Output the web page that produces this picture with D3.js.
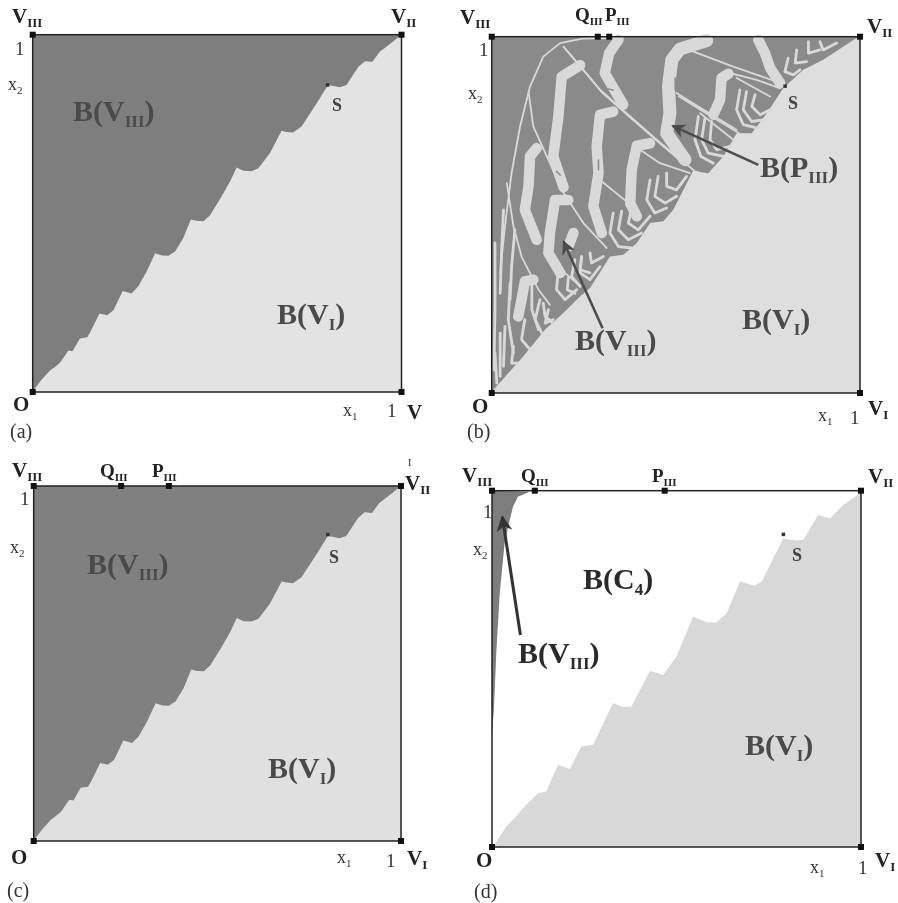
<!DOCTYPE html>
<html>
<head>
<meta charset="utf-8">
<script src="https://cdn.jsdelivr.net/npm/d3@7"></script>
<style>
  html, body { margin: 0; background: #fff; }
  svg { display: block; filter: blur(0.45px); }
  text { font-family: "Liberation Serif", serif; }
</style>
</head>
<body>
<svg id="chart" width="898" height="903"></svg>
<script>
// basin boundary, unit square coords [x1, x2]
const boundaryAC = [[.002,.004],[.024,.034],[.047,.060],[.061,.071],[.074,.082],[.097,.116],[.108,.114],[.128,.150],[.148,.153],[.157,.169],[.181,.220],[.202,.215],[.219,.229],[.244,.283],[.268,.276],[.286,.295],[.309,.337],[.332,.388],[.350,.382],[.368,.381],[.386,.393],[.408,.430],[.429,.483],[.444,.479],[.463,.478],[.481,.495],[.512,.547],[.535,.589],[.553,.628],[.571,.619],[.593,.618],[.612,.626],[.643,.668],[.675,.731],[.688,.728],[.706,.726],[.729,.743],[.770,.808],[.801,.859],[.833,.853],[.851,.859],[.883,.910],[.901,.926],[.921,.924],[.941,.952],[.959,.966],[.995,.996]];
const boundaryB = [[.005,.009],[.086,.103],[.145,.178],[.190,.220],[.240,.271],[.267,.295],[.321,.383],[.357,.388],[.394,.421],[.430,.477],[.466,.482],[.493,.514],[.548,.626],[.566,.620],[.588,.617],[.629,.664],[.665,.729],[.706,.729],[.747,.785],[.792,.856],[.846,.907],[.900,.935],[.982,.991],[.998,1]];
const boundaryD = [[.007,.007],[.039,.058],[.061,.081],[.093,.119],[.125,.151],[.147,.156],[.179,.231],[.211,.219],[.242,.282],[.274,.287],[.328,.404],[.355,.393],[.378,.394],[.428,.495],[.464,.483],[.500,.535],[.545,.647],[.581,.631],[.608,.630],[.636,.656],[.672,.745],[.712,.733],[.731,.745],[.789,.866],[.825,.860],[.844,.862],[.884,.932],[.916,.922],[.952,.960],[.993,.990]];
const wedgeD = [[0,1],[.102,.997],[.070,.983],[.057,.955],[.048,.918],[.034,.852],[.021,.712],[.012,.553],[.005,.385],[0,.320]];

// panel (b): light bands cut through the dark basin
const bandsExtra = [
  [[.584,.989],[.511,.965],[.489,.935],[.480,.860],[.484,.785],[.475,.729],[.525,.655]]
];
const bandsWide = [
  [[.344,.991],[.319,.954],[.307,.898],[.357,.809]],
  [[.240,.920],[.190,.888],[.181,.776],[.167,.664],[.195,.578]],
  [[.330,.790],[.294,.781],[.285,.692],[.290,.617],[.276,.524],[.299,.449]],
  [[.430,.701],[.394,.694],[.380,.626],[.376,.533],[.394,.496]],
  [[.724,.991],[.742,.954],[.756,.912],[.783,.870]],
  [[.643,.896],[.624,.884],[.620,.823],[.602,.781]],
  [[.122,.687],[.104,.664],[.100,.580],[.090,.514],[.122,.430]],
  [[.208,.542],[.172,.542],[.158,.449],[.154,.393],[.186,.337]],
  [[.113,.318],[.090,.313],[.081,.262],[.072,.215]],
  [[.222,.449],[.208,.411]]
];
const bandsMid = [
  [[.063,.458],[.054,.355],[.050,.262]],
  [[.561,.776],[.552,.711],[.568,.664],[.602,.645]],
  [[.579,.771],[.570,.711],[.588,.673],[.629,.664]],
  [[.597,.762],[.593,.711],[.611,.683],[.647,.692]],
  [[.674,.851],[.665,.795],[.683,.753],[.724,.743]],
  [[.692,.846],[.683,.795],[.706,.762],[.742,.767]],
  [[.715,.837],[.706,.804],[.729,.781],[.756,.795]],
  [[.805,.940],[.796,.902],[.819,.893],[.837,.907]],
  [[.828,.963],[.824,.926],[.855,.930]],
  [[.860,.986],[.860,.954],[.891,.963]],
  [[.891,.986],[.900,.963],[.937,.982]],
  [[.330,.505],[.321,.449],[.344,.411],[.380,.407]],
  [[.353,.510],[.344,.458],[.371,.430],[.407,.449]],
  [[.380,.519],[.371,.477],[.398,.458],[.430,.496]],
  [[.226,.374],[.217,.327],[.240,.299]],
  [[.244,.383],[.240,.346],[.267,.337]],
  [[.267,.393],[.271,.365],[.303,.383]],
  [[.131,.262],[.118,.206],[.136,.168]],
  [[.154,.234],[.145,.196],[.167,.206]],
  [[.090,.206],[.081,.150],[.104,.122]],
  [[.059,.131],[.054,.084],[.072,.084]],
  [[.023,.168],[.023,.047]],
  [[.036,.187],[.032,.075]],
  [[.009,.112],[.014,.028]],
  [[.430,.598],[.421,.542],[.443,.505],[.475,.519]],
  [[.452,.608],[.443,.552],[.471,.533],[.502,.552]],
  [[.475,.617],[.475,.580],[.502,.570],[.529,.608]],
  [[.032,.514],[.027,.402],[.023,.280]],
  [[.009,.421],[.009,.234],[.006,.065]],
  [[.050,.309],[.045,.206],[.059,.112]],
  [[.109,.318],[.109,.234],[.127,.178]],
  [[.140,.252],[.145,.215],[.167,.196]],
  [[.181,.346],[.176,.290],[.199,.262],[.231,.290]],
  [[.208,.323],[.205,.290],[.226,.280]],
  [[.244,.383],[.240,.337],[.267,.318],[.294,.355]]
];
const bandsThin = [
  [[.023,.337],[.036,.468],[.054,.617],[.077,.748],[.104,.860],[.140,.944],[.186,.982],[.249,.995],[.357,.997]],
  [[.195,.972],[.249,.907],[.294,.851],[.376,.776],[.448,.711],[.502,.664],[.548,.626]],
  [[.201,.964],[.255,.899],[.300,.843],[.382,.768],[.454,.703],[.508,.656]],
  [[.100,.846],[.113,.748],[.158,.645],[.190,.570],[.249,.477],[.312,.407]],
  [[.041,.589],[.059,.468],[.081,.383],[.127,.290],[.158,.248]],
  [[.502,.842],[.575,.795],[.665,.739]],
  [[.508,.833],[.581,.786],[.671,.730]],
  [[.647,.898],[.719,.879],[.783,.855]],
  [[.548,.958],[.656,.916],[.773,.874]],
  [[.294,.598],[.394,.514]],
  [[.403,.683],[.457,.645],[.538,.617]],
  [[.167,.365],[.230,.309]],
  [[.566,.785],[.656,.711]],
  [[.665,.884],[.756,.832]]
];
const darkFlecks = [
  [[.312,.855],[.330,.850]],
  [[.176,.622],[.186,.612]],
  [[.498,.884],[.498,.851]],
  [[.290,.654],[.290,.626]]
];

const arrowsB = [[[.724,.640],[.491,.750]], [[.301,.182],[.195,.425]]];
const arrowsD = [[[.077,.595],[.028,.927]]];

const sPoints = { a: [.799,.860], b: [.796,.862], c: [.800,.864], d: [.789,.878] };
const edgeQP = { b: [.288,.319], c: [.238,.368], d: [.116,.468] };
const corners = [[0,0],[1,0],[1,1],[0,1]];

const svg = d3.select("#chart");
const defs = svg.append("defs");

function arrowHead(id, color, w, h){
    defs.append("marker")
        .attr("id", id)
        .attr("viewBox", "0 0 10 10")
        .attr("refX", 9).attr("refY", 5)
        .attr("markerWidth", w).attr("markerHeight", h)
        .attr("markerUnits", "userSpaceOnUse")
        .attr("orient", "auto")
      .append("path")
        .attr("d", "M0,0L10,5L0,10L3,5Z")
        .attr("fill", color);
}
arrowHead("headB", "#4c4c4c", 16, 14);
arrowHead("headD", "#333", 18, 16);

// one square of the figure, colours differ a little panel to panel
function basinPanel(box, opts){
    const x = d3.scaleLinear().domain([0,1]).range([box.left, box.right]);
    const y = d3.scaleLinear().domain([0,1]).range([box.bottom, box.top]);
    const line = d3.line().x(d => x(d[0])).y(d => y(d[1]));
    const g = svg.append("g");

    g.append("rect")
        .attr("x", x(0)).attr("y", y(1))
        .attr("width", x(1) - x(0)).attr("height", y(0) - y(1))
        .attr("fill", opts.light);

    // upper left of the boundary
    const upper = [[0,0]].concat(opts.boundary, [[1,1],[0,1]]);
    g.append("path").attr("d", line(upper) + "Z").attr("fill", opts.upper);

    if(opts.wedge){
        g.append("path").attr("d", line(opts.wedge) + "Z").attr("fill", "#7d7d7d");
    }
    if(opts.bands){
        opts.bands.forEach(b => {
            g.selectAll(null).data(b.lines).join("path")
                .attr("d", line)
                .attr("fill", "none")
                .attr("stroke", b.color)
                .attr("stroke-width", b.width)
                .attr("stroke-linejoin", "round")
                .attr("stroke-linecap", "round");
        });
    }
    (opts.arrows || []).forEach(a => {
        g.append("path")
            .attr("d", line(a))
            .attr("stroke", opts.arrowColor)
            .attr("stroke-width", opts.arrowWidth)
            .attr("marker-end", "url(#" + opts.head + ")");
    });

    g.append("rect")
        .attr("x", x(0)).attr("y", y(1))
        .attr("width", x(1) - x(0)).attr("height", y(0) - y(1))
        .attr("fill", "none")
        .attr("stroke", "#222")
        .attr("stroke-width", 1.5);

    const squares = corners.concat((opts.qp || []).map(v => [v, 1]));
    g.selectAll("rect.node").data(squares).join("rect")
        .attr("class", "node")
        .attr("x", d => x(d[0]) - 3).attr("y", d => y(d[1]) - 3)
        .attr("width", 6).attr("height", 6)
        .attr("fill", "#111");

    g.append("rect")
        .attr("x", x(opts.s[0]) - 1.5).attr("y", y(opts.s[1]) - 1.5)
        .attr("width", 3.5).attr("height", 3.5)
        .attr("fill", "#333");
}

// label with optional subscript, sizes are [main, sub]
function label(px, py, main, sub, tail, o){
    o = o || {};
    const size = o.size || 21, subSize = o.subSize || Math.round(size * 0.6);
    const t = svg.append("text")
        .attr("x", px).attr("y", py)
        .attr("font-size", size)
        .attr("font-weight", o.regular ? 400 : 700)
        .attr("fill", o.color || "#222")
        .text(main);
    if(sub){
        t.append("tspan")
            .attr("dy", o.drop || size * 0.2)
            .attr("font-size", subSize)
            .text(sub);
    }
    if(tail){
        t.append("tspan")
            .attr("dy", -(o.drop || size * 0.2))
            .text(tail);
    }
}

basinPanel({left:32.7, right:401.5, top:34.7, bottom:392},
    {boundary: boundaryAC, light:"#e3e3e3", upper:"#7e7e7e", s: sPoints.a});
basinPanel({left:491.7, right:860, top:36.7, bottom:393}, {
    boundary: boundaryB, light:"#dedede", upper:"#8a8a8a", s: sPoints.b,
    qp: edgeQP.b,
    bands: [
        {lines: bandsExtra, color:"#d9d9d9", width:13},
        {lines: bandsWide, color:"#d9d9d9", width:10.5},
        {lines: bandsMid, color:"#d9d9d9", width:2.8},
        {lines: bandsThin, color:"#d9d9d9", width:1.8},
        {lines: darkFlecks, color:"#8a8a8a", width:1.5}
    ],
    arrows: arrowsB, arrowColor:"#4c4c4c", arrowWidth:2.5, head:"headB"
});
basinPanel({left:33.7, right:401, top:486, bottom:841},
    {boundary: boundaryAC, light:"#e0e0e0", upper:"#808080", s: sPoints.c, qp: edgeQP.c});
basinPanel({left:492, right:861, top:490.7, bottom:847}, {
    boundary: boundaryD, light:"#d8d8d8", upper:"#ffffff", s: sPoints.d,
    qp: edgeQP.d, wedge: wedgeD,
    arrows: arrowsD, arrowColor:"#333", arrowWidth:3, head:"headD"
});

const region = {size:30, subSize:17, drop:6, color:"#4a4a4a"};
const regionD = {size:30, subSize:17, drop:6, color:"#2a2a2a"};
const small = {size:19, regular:true, color:"#333"};
const coord = {size:18, subSize:11, regular:true, drop:4, color:"#333"};
const tag = {size:20, regular:true, color:"#333"};
const sLabel = {size:18, color:"#444"};

// (a)
label(12, 23, "V", "III");
label(391, 23, "V", "II");
label(15, 55, "1", null, null, small);
label(8, 90, "x", "2", null, coord);
label(332, 111, "S", null, null, sLabel);
label(73, 121, "B(V", "III", ")", region);
label(277, 324, "B(V", "I", ")", region);
label(13, 411, "O");
label(343, 416, "x", "1", null, coord);
label(387, 417, "1", null, null, small);
label(407, 419, "V");
label(10, 438, "(a)", null, null, tag);

// (b)
label(460, 24, "V", "III");
label(575, 21, "Q", "III", null, {size:19});
label(605, 21, "P", "III", null, {size:19});
label(867, 33, "V", "II");
label(479, 56, "1", null, null, small);
label(468, 99, "x", "2", null, coord);
label(788, 109, "S", null, null, sLabel);
label(760, 177, "B(P", "III", ")", region);
label(575, 350, "B(V", "III", ")", region);
label(742, 329, "B(V", "I", ")", region);
label(472, 413, "O");
label(818, 421, "x", "1", null, coord);
label(850, 424, "1", null, null, small);
label(868, 415, "V", "I");
label(467, 438, "(b)", null, null, tag);

// (c)
label(12, 477, "V", "III");
label(100, 477, "Q", "III", null, {size:19});
label(152, 477, "P", "III", null, {size:19});
label(405, 490, "V", "II");
label(408, 466, "I", null, null, {size:10, regular:true});
label(20, 505, "1", null, null, small);
label(10, 553, "x", "2", null, coord);
label(329, 563, "S", null, null, sLabel);
label(87, 574, "B(V", "III", ")", region);
label(268, 778, "B(V", "I", ")", region);
label(11, 864, "O");
label(337, 863, "x", "1", null, coord);
label(386, 867, "1", null, null, small);
label(407, 865, "V", "I");
label(7, 897, "(c)", null, null, tag);

// (d)
label(462, 482, "V", "III");
label(521, 482, "Q", "III", null, {size:19});
label(652, 482, "P", "III", null, {size:19});
label(868, 483, "V", "II");
label(483, 518, "1", null, null, small);
label(473, 555, "x", "2", null, coord);
label(583, 589, "B(C", "4", ")", regionD);
label(518, 663, "B(V", "III", ")", regionD);
label(792, 561, "S", null, null, sLabel);
label(745, 755, "B(V", "I", ")", region);
label(476, 867, "O");
label(810, 873, "x", "1", null, coord);
label(858, 874, "1", null, null, small);
label(875, 867, "V", "I");
label(474, 898, "(d)", null, null, tag);
</script>
</body>
</html>
